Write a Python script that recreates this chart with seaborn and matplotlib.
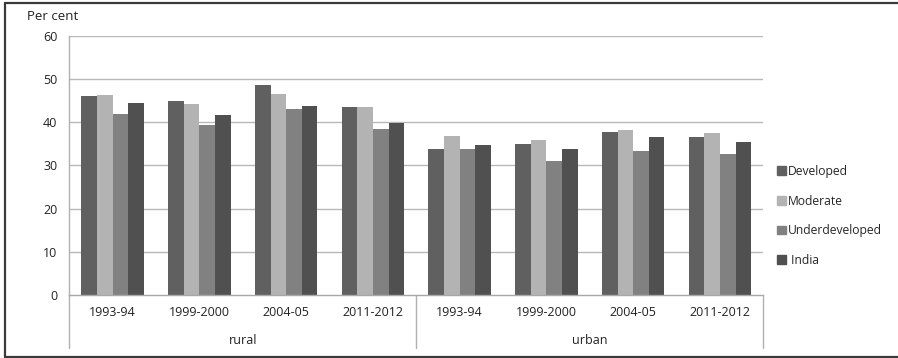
import matplotlib
matplotlib.use("Agg")
import matplotlib.pyplot as plt
import matplotlib.transforms as mtransforms
from matplotlib.lines import Line2D
import seaborn as sns
import pandas as pd

# Data
areas = ["rural", "urban"]
periods = ["1993-94", "1999-2000", "2004-05", "2011-2012"]
series = ["Developed", "Moderate", "Underdeveloped", "India"]
developed = [46.0, 45.0, 48.5, 43.6, 33.7, 35.0, 37.7, 36.5]
moderate = [46.2, 44.1, 46.6, 43.6, 36.9, 35.9, 38.3, 37.5]
underdeveloped = [41.9, 39.4, 43.0, 38.5, 33.7, 31.0, 33.3, 32.7]
india = [44.4, 41.7, 43.8, 39.9, 34.7, 33.7, 36.5, 35.4]
y_ticks = [0, 10, 20, 30, 40, 50, 60]

colors = ["#5f605f", "#b3b3b3", "#818181", "#505050"]

cats = [f"{a} {p}" for a in areas for p in periods]
rows = []
for name, vals in zip(series, [developed, moderate, underdeveloped, india]):
    for c, v in zip(cats, vals):
        rows.append({"cat": c, "series": name, "value": v})
df = pd.DataFrame(rows)

sns.set_style("white")
plt.rcParams["font.family"] = ["Open Sans", "DejaVu Sans"]
FS = 9.0
plt.rcParams["font.size"] = FS

fig = plt.figure(figsize=(8.98, 3.58), dpi=100)
W, H = 898, 358
x0, x1, ytop, ybot = 69.3, 763.3, 35.6, 295.3
ax = fig.add_axes([x0 / W, 1 - ybot / H, (x1 - x0) / W, (ybot - ytop) / H])

sns.barplot(data=df, x="cat", y="value", hue="series", order=cats,
            hue_order=series, palette=colors, width=0.72, gap=0,
            saturation=1, ax=ax, legend=False, linewidth=0)

ax.set_ylim(0, 60)
ax.set_xlim(-0.5, len(cats) - 0.5)
ax.set_yticks(y_ticks)
ax.set_yticklabels([str(t) for t in y_ticks], color="#222222", fontsize=FS)
ax.tick_params(axis="y", length=0, pad=8.6)
ax.set_xticks([])
ax.set_xlabel("")
ax.set_ylabel("")
for t in y_ticks[1:]:
    ax.axhline(t, color="#b8b8b8", lw=1.0, zorder=0)
for s in ["top", "right"]:
    ax.spines[s].set_visible(False)
ax.spines["left"].set_color("#b0b0b0")
ax.spines["bottom"].set_color("#a8a8a8")
ax.spines["left"].set_linewidth(1.0)
ax.spines["bottom"].set_linewidth(1.0)

# Two-level category axis below the plot
trans = mtransforms.blended_transform_factory(ax.transData, ax.transAxes)
per_px = 1.0 / (ybot - ytop)
tick_y = -(313 - ybot) * per_px
grp_y = -(340.7 - ybot) * per_px
sep_y = -(348 - ybot) * per_px
for i, c in enumerate(cats):
    ax.text(i, tick_y, periods[i % len(periods)], transform=trans,
            ha="center", va="center", fontsize=FS, color="#222222")
for j, a in enumerate(areas):
    ax.text(j * 4 + 1.5, grp_y, a, transform=trans, ha="center",
            va="center", fontsize=FS, color="#222222")
for xb in [-0.5, 3.5, 7.5]:
    ax.add_line(Line2D([xb, xb], [0, sep_y], transform=trans,
                       color="#b0b0b0", lw=1.0, clip_on=False))

fig.text(27 / W, 1 - 17 / H, "Per cent", ha="left", va="center",
         fontsize=FS + 0.5, color="#222222")

# Legend
handles = [plt.Rectangle((0, 0), 1, 1, color=c) for c in colors]
labels = ["Developed", "Moderate", "Underdeveloped", " India"]
fig.legend(handles, labels, loc="upper left",
           bbox_to_anchor=(772 / W, 1 - 160 / H), frameon=False,
           handlelength=0.72, handleheight=0.72, handletextpad=0.2,
           labelspacing=1.38, fontsize=8.7, borderaxespad=0)

# Outer frame
for xs, ys in [([4.5 / W, 1], [1 - 2.5 / H] * 2),
               ([4.5 / W] * 2, [1.5 / H, 1 - 2.5 / H]),
               ([4.5 / W, 1], [1.5 / H] * 2)]:
    fig.add_artist(Line2D(xs, ys, transform=fig.transFigure,
                          color="#3a3a3a", lw=1.6))

fig.savefig("out.png", dpi=100)
